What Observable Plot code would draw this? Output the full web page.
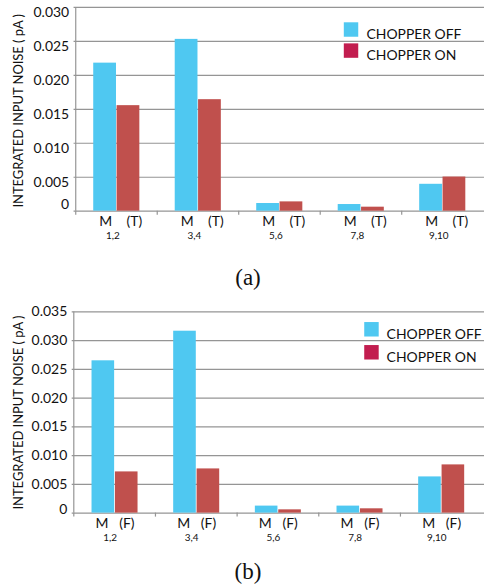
<!DOCTYPE html>
<html>
<head>
<meta charset="utf-8">
<script src="https://cdn.jsdelivr.net/npm/d3@7"></script>
<script src="https://cdn.jsdelivr.net/npm/@observablehq/plot@0.6"></script>
<style>
html, body { margin: 0; padding: 0; background: #fff; }
#wrap { position: relative; width: 484px; height: 588px; overflow: hidden; }
.panel { position: absolute; left: 0; }
.cap { position: absolute; font-family: "Liberation Serif", "Times New Roman", serif; font-size: 23px; color: #111; transform: translate(-50%, -50%); white-space: nowrap; }
</style>
</head>
<body>
<div id="wrap"></div>
<script>
// ---- data ----
const groups = ["1,2", "3,4", "5,6", "7,8", "9,10"];
const seriesNames = ["CHOPPER OFF", "CHOPPER ON"];
const offA = [0.0218, 0.0253, 0.00113, 0.00098, 0.00396];
const onA  = [0.01554, 0.01642, 0.00137, 0.00059, 0.00503];
const offB = [0.0265, 0.03165, 0.00122, 0.00122, 0.0063];
const onB  = [0.00717, 0.00769, 0.00057, 0.00075, 0.00839];
const yTicksA = [0, 0.005, 0.010, 0.015, 0.020, 0.025, 0.030];
const yTicksB = [0, 0.005, 0.010, 0.015, 0.020, 0.025, 0.030, 0.035];
const xLabelA = "M\u00a0\u00a0\u00a0\u00a0(T)";
const xLabelB = "M\u00a0\u00a0\u00a0(F)";
const yTitle = "INTEGRATED INPUT NOISE ( pA )";
const captions = ["(a)", "(b)"];

// ---- styles ----
const BLUE = "#4FC8F1";
const RED = "#C0504D";
const LEGEND_RED = "#C21D4F";
const GRID = "#959595";
const FONT = "Lato, 'Open Sans', sans-serif";

function rows(off, on) {
  return groups.flatMap((g, i) => [
    {group: g, series: seriesNames[0], value: off[i]},
    {group: g, series: seriesNames[1], value: on[i]}
  ]);
}

function panel(cfg) {
  const data = rows(cfg.off, cfg.on);
  const bw = (cfg.width - cfg.marginLeft) / groups.length;
  const barW = 23.5;
  const ymax = cfg.yTicks[cfg.yTicks.length - 1];
  return Plot.plot({
    width: cfg.width,
    height: cfg.height,
    marginLeft: cfg.marginLeft,
    marginRight: 0,
    marginTop: cfg.marginTop,
    marginBottom: cfg.marginBottom,
    style: {fontFamily: FONT, fontSize: "14px", color: "#111", background: "transparent", overflow: "visible"},
    x: {type: "band", domain: groups, padding: 0, axis: null, label: null},
    y: {domain: [0, ymax], axis: null, label: null},
    marks: [
      Plot.ruleY(cfg.yTicks, {stroke: GRID, strokeWidth: 1.2}),
      Plot.barY(data.filter(d => d.series === seriesNames[0]), {
        x: "group", y: "value", fill: BLUE,
        insetLeft: bw / 2 - barW, insetRight: bw / 2
      }),
      Plot.barY(data.filter(d => d.series === seriesNames[1]), {
        x: "group", y: "value", fill: RED,
        insetLeft: bw / 2, insetRight: bw / 2 - barW
      }),
      // left axis line
      Plot.tickX([groups[0]], {x: d => d, dx: -bw / 2, stroke: GRID, strokeWidth: 1.2}),
      // boundary ticks below the baseline
      Plot.axisX(groups, {tickSize: 4, tickFormat: () => "", dx: -bw / 2, stroke: GRID, strokeWidth: 1.2, label: null}),
      // y tick labels
      Plot.axisY(cfg.yTicks.filter(d => d > 0), {
        tickSize: 0, tickPadding: 5, dy: cfg.tickDy, fontSize: 14,
        tickFormat: d => d.toFixed(3), label: null
      }),
      Plot.axisY([0], {
        tickSize: 0, tickPadding: 5, dy: cfg.zeroDy, fontSize: 14,
        tickFormat: () => "0", label: null
      }),
      // y title
      Plot.text([yTitle], {
        frameAnchor: "left", textAnchor: "middle", lineAnchor: "middle",
        rotate: -90, dx: cfg.titleDx, dy: cfg.titleDy,
        text: d => d, fontSize: 13, fill: "#111"
      }),
      // x labels
      Plot.text(groups, {
        x: d => d, frameAnchor: "bottom", dy: 15, dx: cfg.labelDx,
        text: () => cfg.xLabel, fontSize: 14, fill: "#111"
      }),
      Plot.text(groups, {
        x: d => d, frameAnchor: "bottom", dy: 28, dx: cfg.subDx,
        text: d => d, fontSize: 10, fill: "#111"
      }),
      // legend
      Plot.dot([seriesNames[0]], {
        frameAnchor: "top-left", dx: cfg.legSwX, dy: cfg.legY[0],
        symbol: "square", r: 8.2, fill: BLUE, stroke: null
      }),
      Plot.dot([seriesNames[1]], {
        frameAnchor: "top-left", dx: cfg.legSwX, dy: cfg.legY[1],
        symbol: "square", r: 8.2, fill: LEGEND_RED, stroke: null
      }),
      Plot.text([seriesNames[0]], {
        frameAnchor: "top-left", dx: cfg.legTxX, dy: cfg.legY[0],
        text: d => d, textAnchor: "start", fontSize: 14, fill: "#111"
      }),
      Plot.text([seriesNames[1]], {
        frameAnchor: "top-left", dx: cfg.legTxX, dy: cfg.legY[1],
        text: d => d, textAnchor: "start", fontSize: 14, fill: "#111"
      })
    ]
  });
}

const wrap = document.getElementById("wrap");

const cfgs = [
  {
    off: offA, on: onA, yTicks: yTicksA, xLabel: xLabelA,
    top: 0, width: 487, height: 257, marginLeft: 74, marginTop: 7, marginBottom: 45,
    tickDy: 5, zeroDy: -7, titleDx: -56, titleDy: 1.5,
    labelDx: 4, subDx: -4,
    legSwX: 278.7, legTxX: 294.3, legY: [22.2, 43.4],
    capX: 248, capY: 278
  },
  {
    off: offB, on: onB, yTicks: yTicksB, xLabel: xLabelB,
    top: 300, width: 486, height: 253.5, marginLeft: 72, marginTop: 11.5, marginBottom: 40,
    tickDy: 0, zeroDy: -4, titleDx: -54, titleDy: 0,
    labelDx: 0, subDx: -5,
    legSwX: 300.5, legTxX: 315.7, legY: [17.4, 40.5],
    capX: 248, capY: 572
  }
];

cfgs.forEach((cfg, k) => {
  const div = document.createElement("div");
  div.className = "panel";
  div.style.top = cfg.top + "px";
  div.appendChild(panel(cfg));
  wrap.appendChild(div);
  const cap = document.createElement("div");
  cap.className = "cap";
  cap.style.left = cfg.capX + "px";
  cap.style.top = cfg.capY + "px";
  cap.textContent = captions[k];
  wrap.appendChild(cap);
});
</script>
</body>
</html>
